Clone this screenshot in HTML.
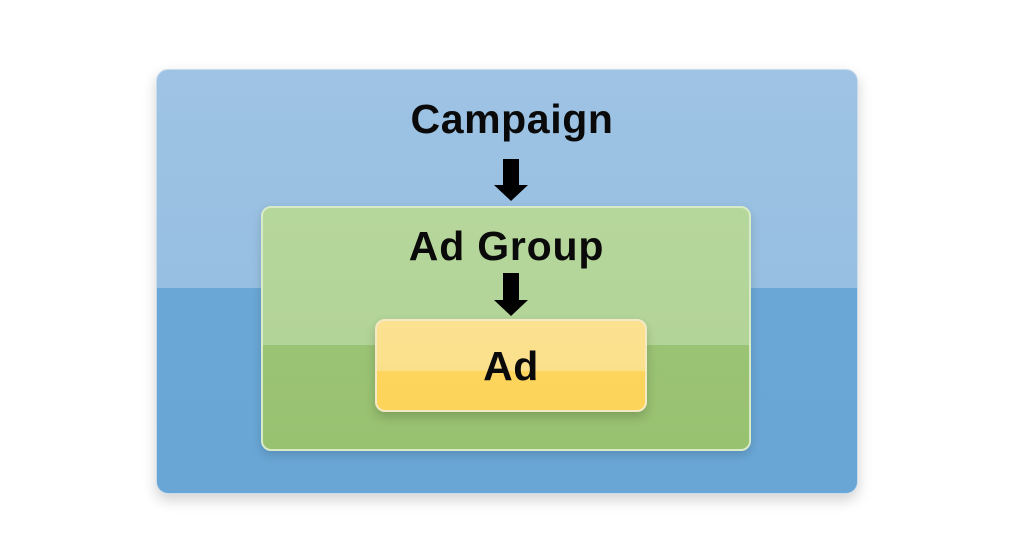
<!DOCTYPE html>
<html><head><meta charset="utf-8"><style>
html,body{margin:0;padding:0;width:1024px;height:559px;background:#fff;overflow:hidden;font-family:"Liberation Sans",sans-serif}
.b{position:absolute;box-sizing:border-box}
.t{position:absolute;left:0;right:0;text-align:center;font-weight:bold;color:#0a0a0a;line-height:1}
</style></head><body>
<div class="b" style="left:156px;top:69px;width:702px;height:425px;border-radius:12px;overflow:hidden;background:linear-gradient(#9ec3e4 0,#97bfe1 218px,#6aa7d6 218px,#69a6d6 100%);box-shadow:0 6px 14px rgba(0,0,0,0.18);border:1px solid #c9dcec"></div>
<div class="t" style="top:99px;left:0;width:1024px;font-size:41px;letter-spacing:0.6px">Campaign</div>
<svg class="b" style="left:0;top:0" width="1024" height="559">
<polygon points="503,159 519,159 519,185 528,185 511,201 494,185 503,185" fill="#000"/>
</svg>
<div class="b" style="left:261px;top:206px;width:490px;height:245px;border-radius:10px;overflow:hidden;background:linear-gradient(#b6d79c 0,#b3d498 137px,#9bc374 137px,#98c170 100%);border:2px solid #d6ebc6;box-shadow:0 4px 10px rgba(0,0,0,0.15)"></div>
<div class="t" style="top:226px;left:0;width:1013px;font-size:41px;letter-spacing:0.8px">Ad Group</div>
<svg class="b" style="left:0;top:0" width="1024" height="559">
<polygon points="503,273 519,273 519,300 528,300 511,316 494,300 503,300" fill="#000"/>
</svg>
<div class="b" style="left:375px;top:319px;width:272px;height:93px;border-radius:10px;overflow:hidden;background:linear-gradient(#fbe190 0,#fbe08c 50px,#fdd55c 50px,#fdd45a 100%);border:2px solid #f4e9c4;box-shadow:0 5px 10px rgba(0,0,0,0.18)"></div>
<div class="t" style="top:346px;left:0;width:1022px;font-size:41px;letter-spacing:0.5px">Ad</div>
</body></html>
